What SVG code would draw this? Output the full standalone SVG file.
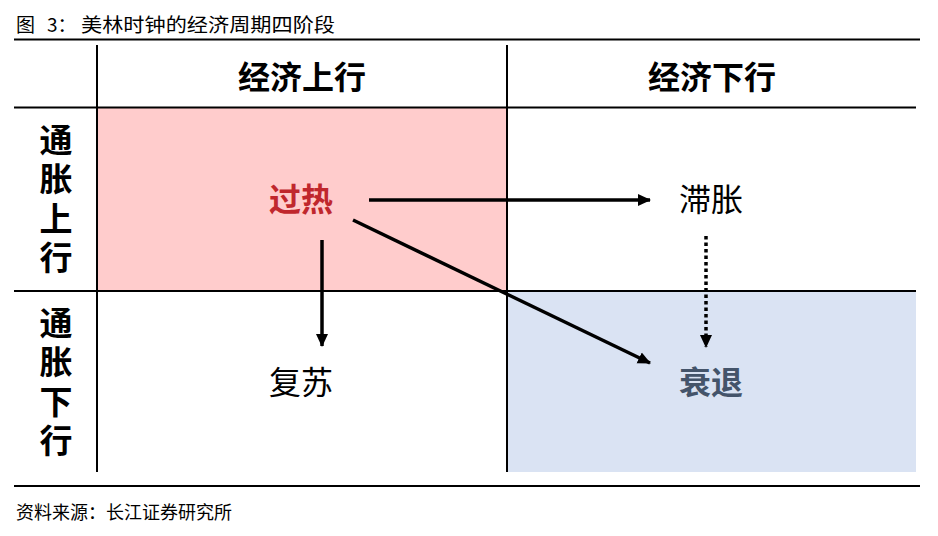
<svg xmlns="http://www.w3.org/2000/svg" width="938" height="536" viewBox="0 0 938 536">
<style>
text{font-family:"Noto Sans CJK SC","Noto Sans",sans-serif;}
.cap{font-size:19px;fill:#000;}
.hd{font-size:32px;font-weight:bold;text-anchor:middle;fill:#000;}
.side{font-size:33px;font-weight:bold;fill:#000;writing-mode:vertical-rl;letter-spacing:6.5px;}
.lbl{font-size:32px;text-anchor:middle;}
.grid{stroke:#000;stroke-width:2;fill:none;}
.arr{stroke:#000;stroke-width:3.5;fill:none;marker-end:url(#ah);}
</style>
<defs>
<marker id="ah" markerUnits="userSpaceOnUse" markerWidth="14" markerHeight="14" viewBox="0 0 14 14" refX="12" refY="7" orient="auto">
<path d="M0,1 L13,7 L0,13 Z" fill="#000"/>
</marker>
</defs>
<rect width="938" height="536" fill="#fff"/>
<g id="caption">
<text class="cap" x="16" y="32">图</text>
<text class="cap" x="47" y="32">3：</text>
<text class="cap" x="81" y="32" textLength="254" lengthAdjust="spacingAndGlyphs">美林时钟的经济周期四阶段</text>
<line x1="14" y1="39.5" x2="920" y2="39.5" stroke="#000" stroke-width="2"/>
</g>
<g id="quadrants">
<rect id="overheat-bg" x="97" y="108" width="410" height="183" fill="#FFCCCC"/>
<rect id="recession-bg" x="507" y="291" width="409" height="181" fill="#DAE3F3"/>
</g>
<g id="grid">
<line class="grid" x1="97" y1="45" x2="97" y2="472"/>
<line class="grid" x1="507" y1="45" x2="507" y2="472"/>
<line class="grid" x1="14" y1="107.5" x2="916" y2="107.5"/>
<line class="grid" x1="14" y1="291" x2="916" y2="291"/>
</g>
<g id="header-up"><text class="hd" x="302" y="89">经济上行</text></g>
<g id="header-down"><text class="hd" x="712" y="89">经济下行</text></g>
<g id="side-up"><text class="side" x="56" y="122.5">通胀上行</text></g>
<g id="side-down"><text class="side" x="56" y="305.5">通胀下行</text></g>
<g id="overheat"><text class="lbl" x="301" y="211" fill="#C0272D" font-weight="bold">过热</text></g>
<g id="stagflation"><text class="lbl" x="711" y="211" fill="#000">滞胀</text></g>
<g id="recovery"><text class="lbl" x="301" y="394" fill="#000">复苏</text></g>
<g id="recession"><text class="lbl" x="711" y="394" fill="#44546A" font-weight="bold">衰退</text></g>
<g id="connectors">
<line class="arr" x1="369" y1="200" x2="650" y2="200"/>
<line class="arr" x1="322" y1="240" x2="322" y2="346"/>
<line class="arr" x1="353" y1="220" x2="650" y2="363"/>
<line class="arr" x1="706" y1="236" x2="706" y2="347" stroke-dasharray="3.5 3"/>
</g>
<g id="footer">
<line x1="14" y1="486" x2="920" y2="486" stroke="#000" stroke-width="2"/>
<text x="16" y="519" font-size="18" fill="#000">资料来源：长江证券研究所</text>
</g>
</svg>
